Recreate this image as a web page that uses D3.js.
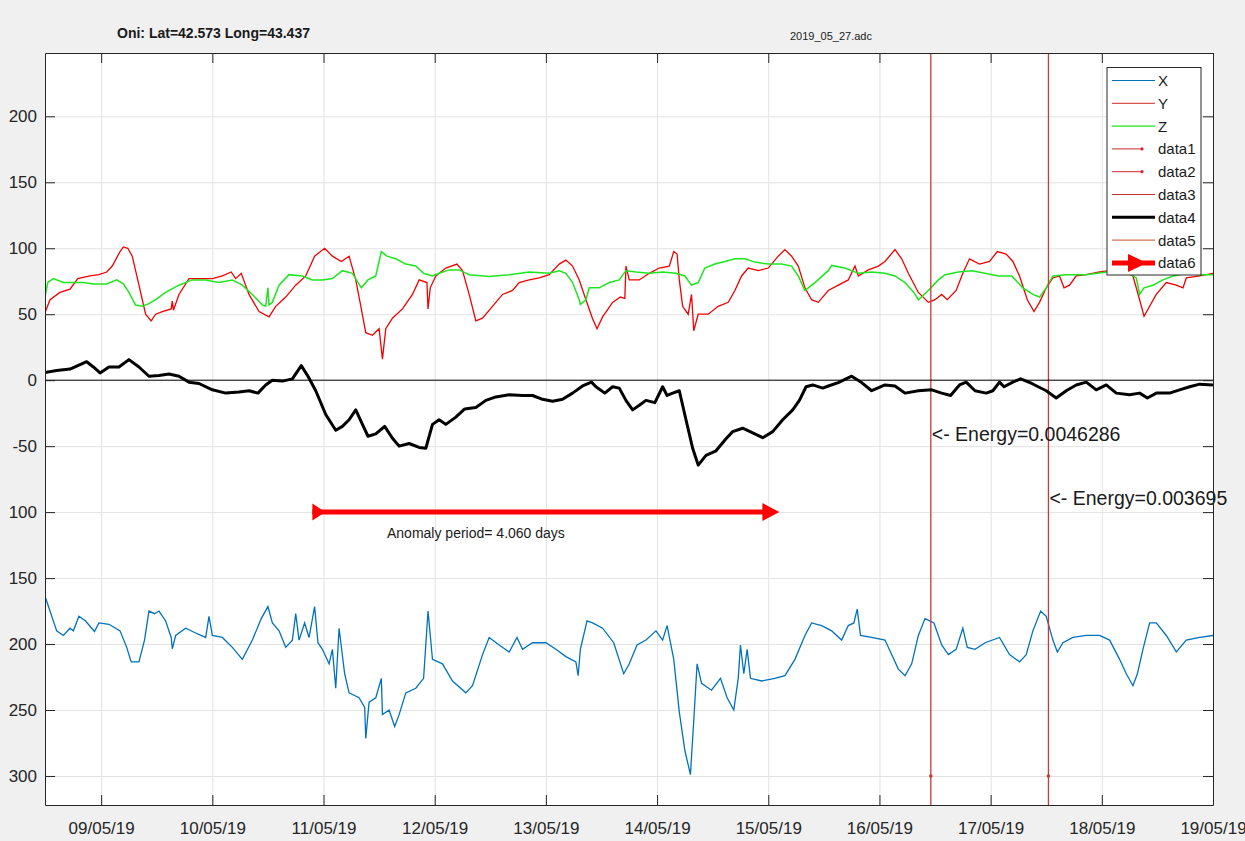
<html>
<head>
    <meta charset="utf-8">
    <title>Oni magnetometer</title>
    <style type="text/css">
        body{ margin:0; background:#f0f0f0; }
        text{ font-family:"Liberation Sans", Arial, sans-serif; }
        .grid line{ stroke:#e2e2e2; }
        .grid path{ stroke:none; }
        .axis path, .axis line{ stroke:#262626; }
        .axis text{ fill:#262626; font-size:17px; }
    </style>
</head>
<body>
<script src="https://d3js.org/d3.v7.min.js"></script>
<script>

// days counted from 09/05/2019 00:00
var xTickDays   = [0,1,2,3,4,5,6,7,8,9,10];
var xTickLabels = ["09/05/19","10/05/19","11/05/19","12/05/19","13/05/19","14/05/19","15/05/19","16/05/19","17/05/19","18/05/19","19/05/19"];
var yTickValues = [-300,-250,-200,-150,-100,-50,0,50,100,150,200];
var yTickLabels = ["300","250","200","150","100","-50","0","50","100","150","200"];

var seriesX = [[-0.51,-162.5],[-0.46,-175],[-0.40,-190],[-0.34,-193.5],[-0.28,-188],[-0.25,-190],[-0.20,-179],[-0.14,-182.5],[-0.06,-190.5],[-0.02,-184],[0.07,-185],[0.17,-190],[0.23,-202.5],[0.27,-213.5],[0.34,-213.5],[0.39,-197],[0.43,-175],[0.48,-177],[0.52,-175],[0.58,-182.5],[0.63,-195],[0.64,-203.6],[0.67,-193.5],[0.76,-188],[0.85,-191.6],[0.94,-195],[0.97,-179],[1.00,-193.5],[1.09,-195],[1.18,-202.5],[1.27,-211.6],[1.36,-197],[1.44,-180.7],[1.50,-171.6],[1.54,-184],[1.60,-190],[1.66,-202.5],[1.72,-197],[1.75,-177],[1.78,-197],[1.83,-184],[1.87,-195],[1.92,-171.6],[1.95,-199],[1.99,-204],[2.05,-215],[2.08,-204],[2.11,-233.5],[2.14,-188],[2.19,-222.5],[2.23,-237],[2.32,-240.7],[2.37,-248],[2.38,-271.6],[2.41,-244],[2.47,-240.7],[2.52,-226],[2.53,-253.5],[2.59,-250],[2.64,-262.5],[2.68,-253.5],[2.74,-237],[2.83,-233.5],[2.90,-226],[2.94,-175],[2.98,-211.6],[3.07,-215],[3.16,-228],[3.28,-237],[3.34,-231.6],[3.43,-208],[3.49,-195],[3.58,-200.7],[3.67,-206],[3.74,-195],[3.79,-204],[3.88,-199],[4.00,-199],[4.09,-204],[4.18,-209.5],[4.27,-213.5],[4.29,-224],[4.31,-204],[4.37,-182.5],[4.42,-184],[4.51,-188],[4.61,-199],[4.70,-222.5],[4.75,-215],[4.82,-200.7],[4.90,-197],[4.99,-190],[5.05,-197],[5.09,-186],[5.15,-211.6],[5.20,-251.6],[5.25,-280.7],[5.30,-299],[5.33,-258],[5.36,-215],[5.40,-229.8],[5.49,-235],[5.57,-226],[5.63,-240.7],[5.69,-250],[5.73,-226],[5.75,-200.7],[5.78,-222.5],[5.81,-204],[5.84,-226],[5.94,-228],[6.06,-226],[6.15,-224],[6.24,-211.6],[6.33,-193.5],[6.39,-184],[6.48,-186],[6.57,-190],[6.66,-197],[6.72,-186],[6.77,-184],[6.80,-173.5],[6.83,-193.5],[6.93,-195],[7.05,-197],[7.11,-208],[7.17,-219],[7.23,-224],[7.29,-215],[7.35,-193.5],[7.41,-180.7],[7.49,-184],[7.56,-200.7],[7.62,-208],[7.69,-204],[7.75,-188],[7.79,-202.5],[7.86,-204],[7.95,-199],[8.08,-195],[8.17,-208],[8.26,-213.5],[8.32,-208],[8.38,-190],[8.45,-175],[8.50,-179],[8.56,-197],[8.60,-206],[8.65,-199],[8.74,-195],[8.86,-193.5],[8.98,-193.5],[9.07,-197],[9.16,-211.6],[9.22,-222.5],[9.28,-231.6],[9.32,-222.5],[9.37,-204],[9.43,-184],[9.49,-184],[9.58,-193.5],[9.67,-206],[9.76,-197],[9.88,-195],[10.0,-193.5]];

var seriesY = [[-0.51,50],[-0.46,61],[-0.37,66.5],[-0.28,69],[-0.21,77],[-0.10,79],[-0.02,80],[0.05,82],[0.10,86.5],[0.17,97.5],[0.20,101],[0.24,100],[0.28,94],[0.34,72],[0.40,50],[0.45,45],[0.49,50],[0.55,52],[0.63,54],[0.64,60],[0.65,53],[0.70,65],[0.79,77],[0.88,77],[1.00,77],[1.09,79],[1.17,82],[1.21,77],[1.26,81],[1.33,65],[1.42,52],[1.51,48],[1.57,56],[1.66,63],[1.75,72],[1.84,79],[1.92,94],[2.01,100],[2.08,94],[2.16,90],[2.23,94],[2.29,76],[2.34,54],[2.38,36],[2.44,34],[2.50,39],[2.53,16],[2.56,39],[2.62,47],[2.71,54],[2.80,65],[2.86,76],[2.93,74],[2.94,54],[2.96,70],[3.01,79],[3.10,85],[3.20,88],[3.25,83],[3.31,65],[3.37,45],[3.43,47],[3.52,56],[3.61,65],[3.70,68],[3.76,74],[3.85,76],[3.94,77.5],[4.03,80],[4.12,88],[4.18,91],[4.24,86.5],[4.30,76],[4.36,61],[4.42,46.5],[4.46,39],[4.51,48],[4.60,59],[4.67,63],[4.71,62],[4.72,86.5],[4.75,76],[4.84,76],[4.93,81],[5.02,85],[5.11,86.5],[5.15,97.5],[5.18,95.6],[5.20,76],[5.23,56],[5.28,50],[5.31,65],[5.33,37.5],[5.37,50],[5.46,50],[5.55,56],[5.64,59],[5.70,68],[5.76,79],[5.82,85],[5.91,83],[6.00,85],[6.09,94],[6.15,99],[6.21,94],[6.27,86.5],[6.33,70],[6.39,61],[6.45,59],[6.54,68],[6.63,72],[6.72,76],[6.78,86.5],[6.81,79],[6.90,83.6],[6.99,86.5],[7.05,90],[7.14,99],[7.20,92],[7.26,81],[7.35,66.5],[7.44,59],[7.50,61],[7.56,65],[7.61,61],[7.69,68],[7.75,81],[7.81,92],[7.90,88],[7.99,90],[8.06,97.5],[8.14,95.6],[8.20,90],[8.26,79],[8.33,61],[8.39,52],[8.44,59],[8.50,70],[8.56,77.5],[8.62,79],[8.66,70],[8.71,72],[8.77,79],[8.86,80],[8.98,82],[9.07,83],[9.20,82],[9.28,79],[9.34,61],[9.38,48.4],[9.43,56],[9.49,65],[9.58,74],[9.67,72],[9.73,70],[9.76,77.5],[9.88,79],[10.0,81]];

var seriesZ = [[-0.51,61],[-0.48,74],[-0.43,77],[-0.34,74],[-0.25,74],[-0.16,74],[-0.07,73],[0.05,73],[0.14,76],[0.20,73],[0.25,66.5],[0.31,57],[0.37,56],[0.43,58],[0.49,61],[0.58,66.5],[0.70,72],[0.82,76],[0.94,76],[1.06,74],[1.18,76],[1.27,72],[1.36,65],[1.45,57],[1.48,56],[1.50,70],[1.51,57],[1.54,59],[1.60,72],[1.69,80],[1.81,79],[1.90,76],[1.99,76],[2.08,77],[2.17,83],[2.26,81],[2.34,70],[2.40,76],[2.47,79],[2.52,97.5],[2.57,94],[2.65,92],[2.74,88],[2.83,86.5],[2.90,81],[2.98,79],[3.04,81],[3.13,83.6],[3.22,83.6],[3.31,80],[3.49,78.5],[3.67,80],[3.85,82],[4.03,81],[4.12,83],[4.18,81],[4.24,74],[4.30,61],[4.31,57.5],[4.36,61],[4.39,70],[4.48,70],[4.57,74],[4.66,76],[4.72,83],[4.81,82],[4.93,81],[5.05,82],[5.17,81],[5.25,79],[5.31,72],[5.37,74],[5.43,85],[5.52,88],[5.61,90],[5.70,92],[5.79,92],[5.88,89.5],[6.00,88],[6.12,88],[6.21,86.5],[6.27,79],[6.33,68],[6.42,74],[6.54,83],[6.57,87],[6.69,85],[6.81,81],[6.93,82],[7.05,81],[7.14,79],[7.23,74],[7.31,66.5],[7.35,61],[7.44,68],[7.53,76],[7.59,80],[7.71,82],[7.83,83],[7.95,81],[8.07,79],[8.19,79],[8.29,70],[8.38,65],[8.44,63],[8.50,70],[8.56,79],[8.68,80],[8.86,80],[9.04,82],[9.22,82.4],[9.31,77.5],[9.34,65],[9.38,70],[9.46,72],[9.55,76],[9.64,79],[9.76,81],[9.88,80],[10.0,80]];

var seriesData4 = [[-0.51,5.8],[-0.40,7.3],[-0.28,8.4],[-0.21,11],[-0.13,14],[-0.07,10],[-0.01,5.5],[0.07,10],[0.16,10],[0.25,15.6],[0.34,10],[0.43,3],[0.52,3.6],[0.61,4.7],[0.70,3],[0.79,-1.5],[0.88,-2.5],[1.00,-7.3],[1.12,-9.8],[1.24,-9],[1.33,-8],[1.41,-9.8],[1.48,-3.6],[1.54,0],[1.63,-0.7],[1.72,1],[1.80,11],[1.86,3],[1.93,-8],[2.02,-26],[2.11,-38],[2.17,-35],[2.23,-30],[2.29,-22.5],[2.35,-33.5],[2.40,-42.5],[2.47,-40.7],[2.55,-35],[2.62,-44],[2.68,-50],[2.77,-48],[2.86,-51],[2.92,-51.6],[2.98,-33.5],[3.04,-30],[3.10,-33.5],[3.19,-28],[3.27,-21.8],[3.37,-20.7],[3.46,-15.3],[3.55,-12.7],[3.67,-11],[3.79,-11.6],[3.88,-11.6],[3.97,-14.5],[4.06,-16],[4.15,-14.5],[4.24,-9.8],[4.33,-4.4],[4.41,-1.5],[4.45,-5],[4.53,-9.8],[4.60,-5],[4.66,-6],[4.72,-15.3],[4.78,-22.5],[4.84,-19],[4.90,-15.3],[4.98,-17],[5.05,-5],[5.09,-11.6],[5.14,-9.8],[5.20,-8],[5.26,-30],[5.32,-51.6],[5.37,-64.4],[5.44,-57],[5.53,-53.5],[5.62,-44.4],[5.68,-39],[5.77,-36.4],[5.86,-40],[5.95,-43.6],[6.04,-39],[6.13,-30],[6.22,-22.5],[6.28,-15.3],[6.34,-5],[6.40,-3.6],[6.49,-6],[6.54,-4.4],[6.63,-1.8],[6.75,3],[6.84,-1.8],[6.93,-8],[7.05,-3.6],[7.14,-4.4],[7.23,-9.8],[7.35,-8],[7.47,-7.3],[7.56,-9.8],[7.64,-11.6],[7.72,-3.6],[7.78,-1.5],[7.86,-8],[7.96,-9.8],[8.02,-8],[8.08,-1.5],[8.12,-5],[8.20,-1.5],[8.27,1],[8.37,-2.5],[8.50,-8],[8.59,-13.5],[8.68,-8],[8.77,-3.6],[8.86,-1.5],[8.95,-7.3],[9.04,-3.6],[9.13,-9.8],[9.25,-11],[9.34,-9.8],[9.41,-13.5],[9.49,-9.8],[9.61,-9.8],[9.70,-7.3],[9.79,-5],[9.88,-3],[10.0,-3.6]];

// energy markers (data1, data2) and anomaly arrow (data6)
var markerDays    = [7.462, 8.52];
var markerBottom  = -300;
var energyLabels  = ["<- Energy=0.0046286", "<- Energy=0.003695"];
var energyLevels  = [-41, -89];
var anomalySpan   = [1.90, 6.10];
var anomalyLevel  = -100;
var anomalyLabel  = "Anomaly period= 4.060 days";
var legendNames   = ["X","Y","Z","data1","data2","data3","data4","data5","data6"];

var W = 1245, H = 841;
var plotL = 45, plotR = 1213, plotT = 53, plotB = 805;

var base = new Date(2019, 4, 9).getTime();
function toDate(d){ return new Date(base + d * 864e5); }

var svg = d3.select("body").append("svg")
    .attr("width", W).attr("height", H);

svg.append("rect").attr("width", W).attr("height", H).attr("fill", "#f0f0f0");
svg.append("rect")
    .attr("x", plotL).attr("y", plotT)
    .attr("width", plotR - plotL).attr("height", plotB - plotT)
    .attr("fill", "#fff");

var x = d3.scaleTime()
    .domain([toDate(-0.505), toDate(10)])
    .range([plotL, plotR]);

var y = d3.scaleLinear()
    .domain([-322, 248])
    .range([plotB, plotT]);

var xTicks = xTickDays.map(toDate);

// grid
svg.append("g").attr("class", "grid")
    .attr("transform", "translate(0," + plotB + ")")
    .call(d3.axisBottom(x).tickValues(xTicks).tickSize(-(plotB - plotT)).tickFormat(""));
svg.append("g").attr("class", "grid")
    .attr("transform", "translate(" + plotL + ",0)")
    .call(d3.axisLeft(y).tickValues(yTickValues).tickSize(-(plotR - plotL)).tickFormat(""));

svg.append("defs").append("clipPath").attr("id", "clip")
    .append("rect").attr("x", plotL).attr("y", plotT)
    .attr("width", plotR - plotL).attr("height", plotB - plotT);

var plot = svg.append("g").attr("clip-path", "url(#clip)");

var line = d3.line()
    .x(function(d){ return x(toDate(d[0])); })
    .y(function(d){ return y(d[1]); });

plot.append("path").datum(seriesX).attr("d", line)
    .attr("fill", "none").attr("stroke", "#0072bd").attr("stroke-width", 1.3);
plot.append("path").datum(seriesY).attr("d", line)
    .attr("fill", "none").attr("stroke", "#f00000").attr("stroke-width", 1.3);
plot.append("path").datum(seriesZ).attr("d", line)
    .attr("fill", "none").attr("stroke", "#1ee61e").attr("stroke-width", 1.5);

// vertical energy markers
markerDays.forEach(function(d){
    plot.append("line")
        .attr("x1", x(toDate(d))).attr("x2", x(toDate(d)))
        .attr("y1", y(-322)).attr("y2", y(248))
        .attr("stroke", "#c83a3a").attr("stroke-width", 1.3);
    plot.append("circle")
        .attr("cx", x(toDate(d))).attr("cy", y(markerBottom))
        .attr("r", 1.8).attr("fill", "#c83a3a");
});

// zero line
plot.append("line")
    .attr("x1", plotL).attr("x2", plotR)
    .attr("y1", y(0)).attr("y2", y(0))
    .attr("stroke", "#000").attr("stroke-width", 1);

plot.append("path").datum(seriesData4).attr("d", line)
    .attr("fill", "none").attr("stroke", "#000").attr("stroke-width", 3)
    .attr("stroke-linejoin", "round");

// anomaly arrow
var ax0 = x(toDate(anomalySpan[0])), ax1 = x(toDate(anomalySpan[1])), ay = y(anomalyLevel);
plot.append("line")
    .attr("x1", ax0).attr("x2", ax1 - 12).attr("y1", ay).attr("y2", ay)
    .attr("stroke", "#ff0000").attr("stroke-width", 5);
plot.append("path")
    .attr("d", "M" + ax0 + "," + (ay - 8.5) + "L" + (ax0 + 13) + "," + ay + "L" + ax0 + "," + (ay + 8.5) + "Z")
    .attr("fill", "#ff0000");
plot.append("path")
    .attr("d", "M" + (ax1 - 17) + "," + (ay - 9) + "L" + ax1 + "," + ay + "L" + (ax1 - 17) + "," + (ay + 9) + "Z")
    .attr("fill", "#ff0000");

svg.append("text")
    .attr("x", 387).attr("y", y(anomalyLevel) + 26)
    .style("font-size", "14px").attr("fill", "#1a1a1a")
    .text(anomalyLabel);

markerDays.forEach(function(d, i){
    svg.append("text")
        .attr("x", x(toDate(d)) + 1).attr("y", y(energyLevels[i]) + 7)
        .style("font-size", "19.5px").attr("fill", "#1a1a1a")
        .text(energyLabels[i]);
});

// axes, MATLAB style: ticks pointing inward on all four sides
svg.append("g").attr("class", "axis")
    .attr("transform", "translate(0," + plotB + ")")
    .call(d3.axisBottom(x).tickValues(xTicks).tickSize(-10).tickSizeOuter(0).tickPadding(17)
        .tickFormat(function(d, i){ return xTickLabels[i]; }));
svg.append("g").attr("class", "axis")
    .attr("transform", "translate(0," + plotT + ")")
    .call(d3.axisTop(x).tickValues(xTicks).tickSize(-10).tickSizeOuter(0).tickFormat(""));
svg.append("g").attr("class", "axis")
    .attr("transform", "translate(" + plotL + ",0)")
    .call(d3.axisLeft(y).tickValues(yTickValues).tickSize(-10).tickSizeOuter(0).tickPadding(8)
        .tickFormat(function(d, i){ return yTickLabels[i]; }));
svg.append("g").attr("class", "axis")
    .attr("transform", "translate(" + plotR + ",0)")
    .call(d3.axisRight(y).tickValues(yTickValues).tickSize(-10).tickSizeOuter(0).tickFormat(""));

// legend
var lg = svg.append("g");
lg.append("rect")
    .attr("x", 1107).attr("y", 67.5).attr("width", 94).attr("height", 207.5)
    .attr("fill", "#fff").attr("stroke", "#262626").attr("stroke-width", 1);

var legendStroke = ["#0072bd","#d02828","#1ee61e","#d02828","#d02828","#c83232","#000","#c8502a","#ff0000"];
var legendWidth  = [1,1,1.3,1,1,1,3,1,5];

legendNames.forEach(function(name, i){
    var ly = 80.5 + i * 22.8;
    var x2 = (name == "data1" || name == "data2") ? 1142 : 1155;
    lg.append("line")
        .attr("x1", 1112).attr("x2", x2).attr("y1", ly).attr("y2", ly)
        .attr("stroke", legendStroke[i]).attr("stroke-width", legendWidth[i]);
    if (x2 == 1142) {
        lg.append("circle").attr("cx", 1142).attr("cy", ly).attr("r", 1.6).attr("fill", "#d02828");
    }
    if (name == "data6") {
        lg.append("path")
            .attr("d", "M1128," + (ly - 9) + "L1147," + ly + "L1128," + (ly + 9) + "Z")
            .attr("fill", "#ff0000");
    }
    lg.append("text")
        .attr("x", 1158).attr("y", ly + 5.5)
        .style("font-size", "15px").attr("fill", "#1a1a1a")
        .text(name);
});

// titles
svg.append("text")
    .attr("x", 117).attr("y", 38)
    .style("font-size", "14px").style("font-weight", "bold").attr("fill", "#1a1a1a")
    .text("Oni: Lat=42.573 Long=43.437");
svg.append("text")
    .attr("x", 790).attr("y", 40)
    .style("font-size", "11px").attr("fill", "#1a1a1a")
    .text("2019_05_27.adc");

</script>
</body>
</html>
